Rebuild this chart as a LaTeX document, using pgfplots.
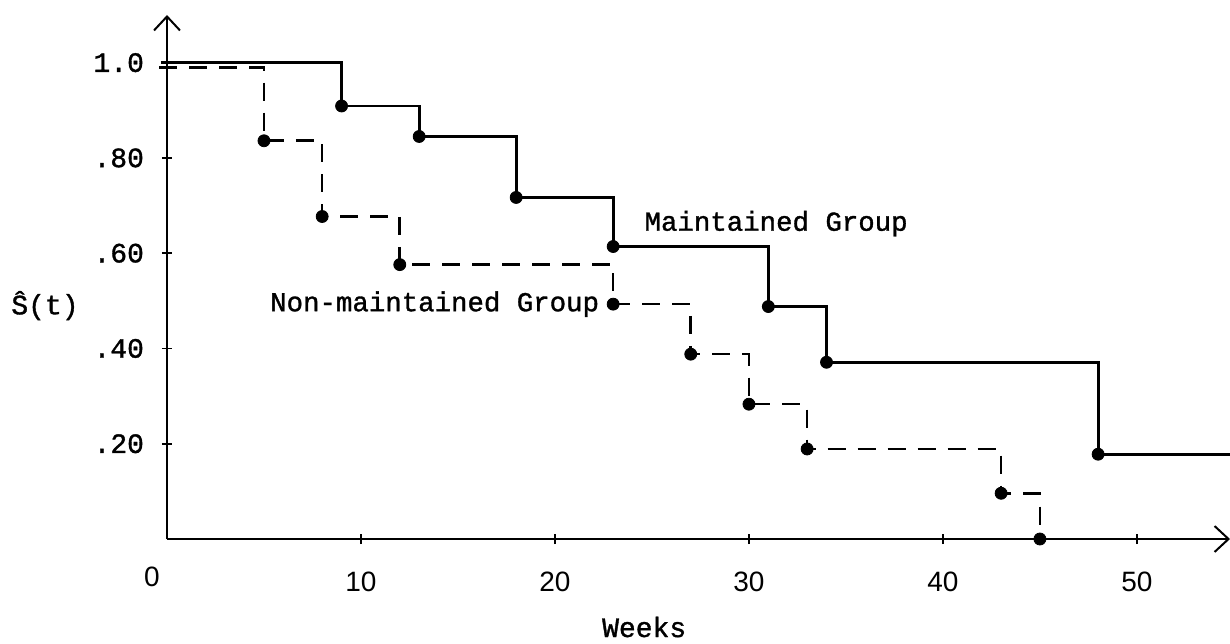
\documentclass[border=0pt]{standalone}
\usepackage{fontspec}
\setmainfont{Liberation Mono}[FakeBold=1.2]
\newfontfamily\sansfont{Liberation Sans}
\usepackage{pgfplots}
\pgfplotsset{compat=1.18}
\usetikzlibrary{arrows.meta}
\begin{document}
\begin{tikzpicture}
\begin{axis}[
  at={(0,0)}, anchor=south west,
  scale only axis, width=531.5pt, height=262pt,
  xmin=0, xmax=54.8, ymin=0, ymax=1.1,
  axis lines=left,
  axis line style={line width=1.3pt, -{Straight Barb[length=7pt,width=13pt,line width=1pt]}},
  clip=false,
  tick align=center, major tick length=5pt,
  tick style={line width=0.9pt, black},
  xtick={10,20,30,40,50}, xticklabels={10,20,30,40,50},
  ytick={0.2,0.4,0.6,0.8,1.0}, yticklabels={.20,.40,.60,.80,1.0},
  /pgf/number format/assume math mode=true,
  xticklabel style={font=\sansfont\fontsize{14}{16}\selectfont, yshift=-10.5pt},
  yticklabel style={font=\fontsize{14}{16}\selectfont, xshift=-5.5pt},
  extra x ticks={0}, extra x tick labels={0},
  extra x tick style={major tick length=0pt, xticklabel style={xshift=-7.5pt}},
]
% Maintained group
\addplot[const plot, black, line width=1.4pt] coordinates {
 (-0.3,1.0) (9,0.909) (13,0.845) (18,0.717) (23,0.614) (31,0.488) (34,0.371) (48,0.178) (54.8,0.178)};
\addplot[only marks, mark=*, mark size=3pt, black] coordinates {
 (9,0.909) (13,0.845) (18,0.717) (23,0.614) (31,0.488) (34,0.371) (48,0.178)};
% Non-maintained group
\addplot[const plot, black, line width=1.3pt, dash pattern=on 9pt off 6pt] coordinates {
 (-0.4,0.99) (5,0.836) (8,0.677) (12,0.576) (23,0.493) (27,0.388) (30,0.283) (33,0.189) (43,0.096) (45,0.0)};
\addplot[only marks, mark=*, mark size=3pt, black] coordinates {
 (5,0.836) (8,0.677) (12,0.576) (23,0.493) (27,0.388) (30,0.283) (33,0.189) (43,0.096) (45,0.0)};
\node[anchor=west, inner sep=0pt, font=\fontsize{13.7}{16}\selectfont] at (axis cs:24.6,0.662) {Maintained Group};
\node[anchor=west, inner sep=0pt, font=\fontsize{13.7}{16}\selectfont] at (axis cs:5.3,0.493) {Non-maintained Group};
\node[font=\fontsize{14}{16}\selectfont] at (axis cs:0,0.49) [xshift=-61pt] {Ŝ(t)};
\node[font=\fontsize{14}{16}\selectfont] at (axis cs:24.6,0) [yshift=-44pt] {Weeks};
\end{axis}
\pgfresetboundingbox
\path[use as bounding box] (-83.5pt,-52pt) rectangle (531.5pt,269.5pt);
\end{tikzpicture}
\end{document}
